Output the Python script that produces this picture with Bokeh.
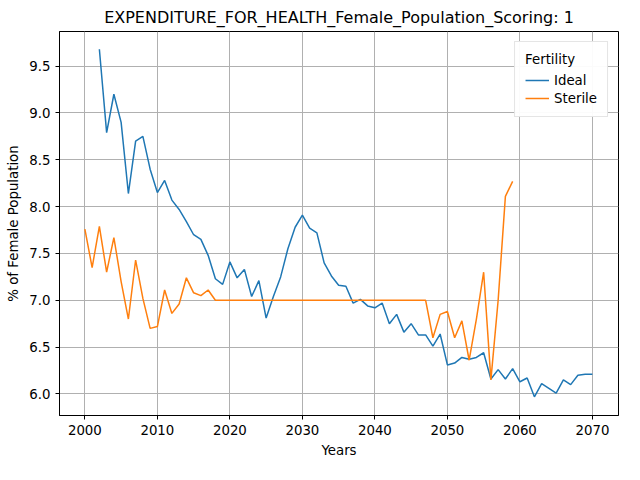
from bokeh.plotting import figure
from bokeh.models import Range1d, Legend, LegendItem, FixedTicker, NumeralTickFormatter
from bokeh.embed import file_html
from bokeh.resources import INLINE

ideal_years = list(range(2002, 2071))
ideal = [9.68, 8.79, 9.20, 8.90, 8.14, 8.70, 8.75, 8.40, 8.15, 8.28,
         8.07, 7.97, 7.84, 7.70, 7.65, 7.48, 7.23, 7.17, 7.41, 7.24,
         7.33, 7.04, 7.21, 6.81, 7.04, 7.25, 7.55, 7.78, 7.91, 7.77,
         7.72, 7.40, 7.26, 7.16, 7.15, 6.97, 7.01, 6.94, 6.92, 6.97,
         6.75, 6.85, 6.66, 6.75, 6.63, 6.63, 6.51, 6.64, 6.31, 6.33,
         6.39, 6.37, 6.39, 6.44, 6.16, 6.26, 6.16, 6.27, 6.13, 6.17,
         5.97, 6.11, 6.06, 6.01, 6.15, 6.10, 6.20, 6.21, 6.21]
sterile_years = list(range(2000, 2060))
sterile = [7.76, 7.35, 7.79, 7.30, 7.67, 7.20, 6.80, 7.43, 7.02, 6.70,
           6.72, 7.11, 6.86, 6.96, 7.24, 7.08, 7.05, 7.11, 7.00, 7.00,
           7.00, 7.00, 7.00, 7.00, 7.00, 7.00, 7.00, 7.00, 7.00, 7.00,
           7.00, 7.00, 7.00, 7.00, 7.00, 7.00, 7.00, 7.00, 7.00, 7.00,
           7.00, 7.00, 7.00, 7.00, 7.00, 7.00, 7.00, 7.00, 6.60, 6.85,
           6.88, 6.60, 6.78, 6.36, 6.80, 7.30, 6.15, 7.00, 8.11, 8.27]

p = figure(width=624, height=464, output_backend="svg", toolbar_location=None,
           title="EXPENDITURE_FOR_HEALTH_Female_Population_Scoring: 1",
           x_range=Range1d(1996.5, 2073.6), y_range=Range1d(5.77, 9.87),
           min_border_left=59, min_border_right=6, min_border_top=29, min_border_bottom=49)
p.title.align = "center"
p.title.text_font = "DejaVu Sans"
p.title.text_font_size = "12pt"
p.title.text_font_style = "normal"
p.title.text_color = "black"
p.outline_line_color = "black"
p.xaxis.axis_label = "Years"
p.yaxis.axis_label = "% of Female Population"
for ax in (p.xaxis[0], p.yaxis[0]):
    ax.axis_label_text_font = "DejaVu Sans"
    ax.axis_label_text_font_style = "normal"
    ax.axis_label_text_font_size = "10pt"
    ax.axis_label_text_color = "black"
    ax.major_label_text_font = "DejaVu Sans"
    ax.major_label_text_font_size = "10pt"
    ax.major_label_text_color = "black"
    ax.minor_tick_line_color = None
    ax.major_tick_out = 4
    ax.major_tick_in = 0
    ax.major_tick_line_color = "black"
    ax.axis_line_color = "black"
p.xaxis.ticker = FixedTicker(ticks=list(range(2000, 2071, 10)))
p.yaxis.ticker = FixedTicker(ticks=[6.0, 6.5, 7.0, 7.5, 8.0, 8.5, 9.0, 9.5])
p.yaxis.formatter = NumeralTickFormatter(format="0.0")
p.grid.grid_line_color = "#b0b0b0"
p.grid.grid_line_width = 1

r1 = p.line(ideal_years, ideal, line_color="#1f77b4", line_width=1.5)
r2 = p.line(sterile_years, sterile, line_color="#ff7f0e", line_width=1.5)
leg = Legend(items=[LegendItem(label="Ideal", renderers=[r1]),
                    LegendItem(label="Sterile", renderers=[r2])],
             location="top_right", title="Fertility")
leg.title_text_font = "DejaVu Sans"
leg.title_text_font_size = "10pt"
leg.title_text_font_style = "normal"
leg.title_text_color = "black"
leg.label_text_font = "DejaVu Sans"
leg.label_text_font_size = "10pt"
leg.label_text_color = "black"
leg.border_line_color = "#cccccc"
leg.spacing = 2
leg.glyph_width = 24
leg.label_height = 16
leg.glyph_height = 16
p.add_layout(leg)

open("out.html", "w").write(file_html(p, INLINE))
